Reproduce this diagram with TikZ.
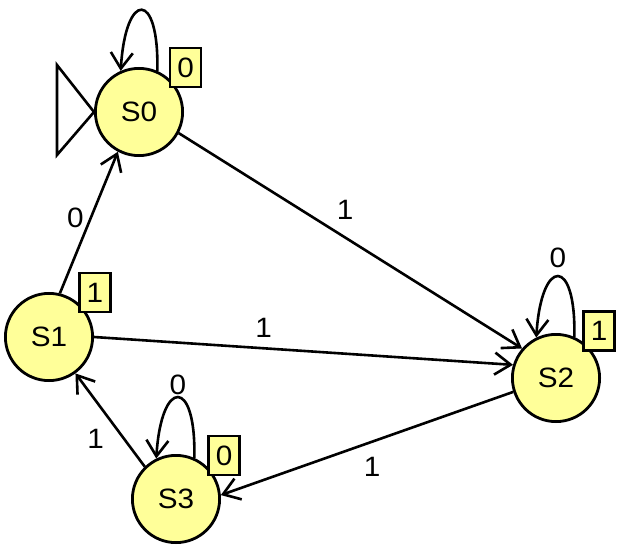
\documentclass[tikz,border=0pt]{standalone}
\usepackage{fontspec}
\setmainfont{Liberation Sans}[FakeStretch=1.06]
\usetikzlibrary{arrows.meta}
\definecolor{stateyellow}{RGB}{255,255,153}
\begin{document}
\begin{tikzpicture}[x=1pt,y=-1pt,
  state/.style={circle,draw,line width=2.8pt,fill=stateyellow,minimum size=87.2pt,inner sep=0pt,font=\fontsize{28}{28}\selectfont},
  outbox/.style={rectangle,draw,line width=2.8pt,fill=stateyellow,minimum width=31pt,minimum height=39pt,inner sep=0pt,font=\fontsize{28}{28}\selectfont},
  trans/.style={line width=2.6pt,-{Straight Barb[length=16pt,width=22pt]}},
  lbl/.style={font=\fontsize{28}{28}\selectfont,inner sep=0pt}]
\useasboundingbox (0,0) rectangle (628,553);
\node[state] (S0) at (139,112) {S0};
\node[state] (S1) at (49,337) {S1};
\node[state] (S2) at (556,378) {S2};
\node[state] (S3) at (176,499) {S3};
% initial marker
\draw[line width=2.6pt,fill=white] (S0.west) -- ++(-37,-47) -- ++(0,90) -- cycle;
% transitions
\draw[trans] (S1.76) -- node[lbl,pos=0.49,shift={(-13,-6)}] {0} (S0.242);
\draw[trans] (S0.-28) -- node[lbl,pos=0.45,shift={(12,-20)}] {1} (S2.139);
\draw[trans] (S1.0) -- node[lbl,pos=0.40,shift={(2,-20)}] {1} (S2.163);
\draw[trans] (S2.198) -- node[lbl,pos=0.51,shift={(8,22)}] {1} (S3.5);
\draw[trans] (S3.134) -- node[lbl,pos=0.45,shift={(-18,14)}] {1} (S1.-54);
% self loops
\draw[trans] (S0.66) .. controls +(2,-81) and +(5,-81) .. (S0.114);
\draw[trans] (S2.66) .. controls +(2,-81) and +(5,-81) .. node[lbl,pos=0.5,shift={(0,-19)}] {0} (S2.116);
\draw[trans] (S3.66) .. controls +(2,-81) and +(5,-81) .. node[lbl,pos=0.5,shift={(0,-13)}] {0} (S3.116);
% output boxes
\node[outbox] (O0) at (185.5,67.5) {0};
\node[outbox] (O1) at (95,292.5) {1};
\node[outbox] (O2) at (599,331) {1};
\node[outbox] (O3) at (224,455.5) {0};
\end{tikzpicture}
\end{document}
